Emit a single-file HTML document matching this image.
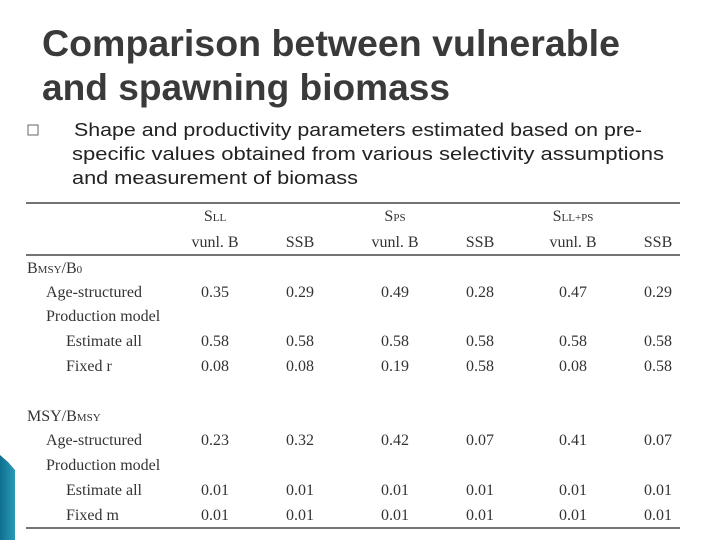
<!DOCTYPE html>
<html><head><meta charset="utf-8"><style>
body{margin:0;width:720px;height:540px;background:#fff;overflow:hidden}
svg{display:block}
.t{font-family:"Liberation Sans",sans-serif;font-weight:bold;font-size:37px;fill:#3a3a3a}
.b{font-family:"Liberation Sans",sans-serif;font-size:18px;fill:#222}
.s{font-family:"Liberation Serif",serif;font-size:16px;fill:#333}
</style></head><body>
<svg width="720" height="540">
<defs><linearGradient id="g" x1="0" x2="1"><stop offset="0" stop-color="#0f6f8f"/><stop offset="1" stop-color="#2a9ab8"/></linearGradient></defs>
<polygon points="0,455 8,462 15,470 15,540 0,540" fill="url(#g)"/>
<text class="t" x="42" y="56" textLength="578" lengthAdjust="spacingAndGlyphs">Comparison between vulnerable</text>
<text class="t" x="42" y="100" textLength="408" lengthAdjust="spacingAndGlyphs">and spawning biomass</text>
<rect x="28" y="125" width="10" height="10" fill="none" stroke="#666" stroke-width="1"/>
<text class="b" x="74" y="136" textLength="568" lengthAdjust="spacingAndGlyphs">Shape and productivity parameters estimated based on pre-</text>
<text class="b" x="72" y="160" textLength="592" lengthAdjust="spacingAndGlyphs">specific values obtained from various selectivity assumptions</text>
<text class="b" x="72" y="184" textLength="286" lengthAdjust="spacingAndGlyphs">and measurement of biomass</text>
<g>
<line x1="26" y1="203" x2="680" y2="203" stroke="#222" stroke-width="1.2"/>
<line x1="26" y1="255" x2="680" y2="255" stroke="#222" stroke-width="1.2"/>
<line x1="26" y1="528" x2="680" y2="528" stroke="#222" stroke-width="1.2"/>
<g id="cells"></g>
</g>
</svg>
<script>
const cols=[215,300,395,480,573,658];
const groupHeaders=[["S","LL"],["S","PS"],["S","LL+PS"]];
const subHeaders=["vunl. B","SSB","vunl. B","SSB","vunl. B","SSB"];
const rowLabels=[["B0",27,268],["Age-structured",46,292],["Production model",46,316],["Estimate all",66,341],["Fixed r",66,366],["M",27,416],["Age-structured",46,440],["Production model",46,465],["Estimate all",66,490],["Fixed m",66,515]];
const valueRows=[[292,[0.35,0.29,0.49,0.28,0.47,0.29]],[341,[0.58,0.58,0.58,0.58,0.58,0.58]],[366,[0.08,0.08,0.19,0.58,0.08,0.58]],[440,[0.23,0.32,0.42,0.07,0.41,0.07]],[490,[0.01,0.01,0.01,0.01,0.01,0.01]],[515,[0.01,0.01,0.01,0.01,0.01,0.01]]];
const NS="http://www.w3.org/2000/svg",g=document.getElementById('cells');
function txt(x,y,html,anchor){const t=document.createElementNS(NS,'text');t.setAttribute('class','s');t.setAttribute('x',x);t.setAttribute('y',y+5);if(anchor)t.setAttribute('text-anchor',anchor);t.innerHTML=html;g.appendChild(t);return t;}
groupHeaders.forEach((h,i)=>{const t=txt(cols[2*i],216,h[0]+'<tspan font-size="11">'+h[1]+'</tspan>','middle');

});
subHeaders.forEach((h,i)=>{const t=txt(cols[i],242,h,'middle');

});
rowLabels.forEach(r=>{let h=r[0];if(h==="B0")h='B<tspan font-size="11">MSY</tspan>/B<tspan font-size="11">0</tspan>';if(h==="M")h='MSY/B<tspan font-size="11">MSY</tspan>';const t=txt(r[1],r[2],h);

});
valueRows.forEach(r=>r[1].forEach((v,i)=>{const t=txt(cols[i],r[0],v.toFixed(2),'middle');

}));
</script>
</body></html>
